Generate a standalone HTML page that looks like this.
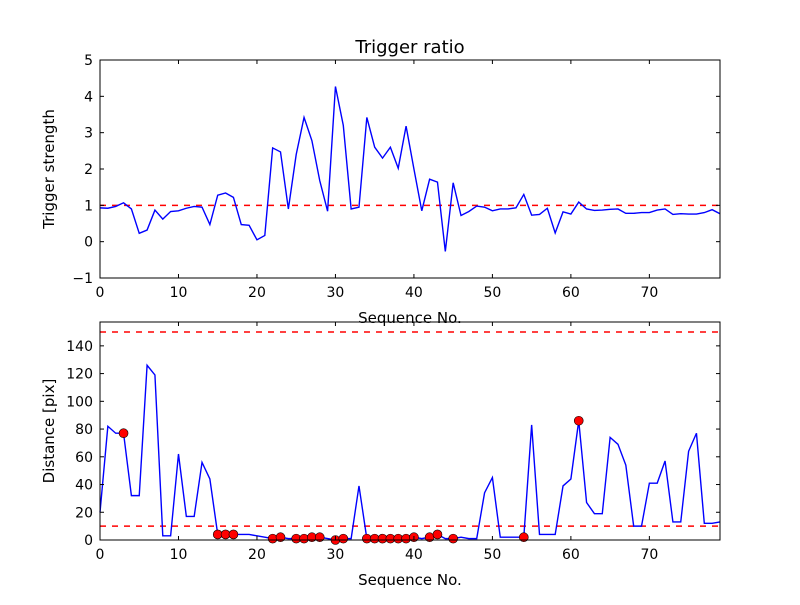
<!DOCTYPE html>
<html><head><meta charset="utf-8"><style>
body{margin:0;background:#fff}
svg text{font-family:"DejaVu Sans","Liberation Sans",sans-serif;fill:#000}
</style></head><body>
<svg id="c" width="800" height="600" xmlns="http://www.w3.org/2000/svg">
<rect width="800" height="600" fill="#fff"/>
</svg>
<script>
const seq = Array.from({length:80},(_,i)=>i);
const ratioValues = [0.93,0.92,0.97,1.07,0.9,0.23,0.32,0.87,0.62,0.83,0.85,0.92,0.97,0.95,0.47,1.28,1.34,1.22,0.47,0.45,0.05,0.17,2.58,2.47,0.9,2.4,3.42,2.78,1.68,0.84,4.27,3.2,0.9,0.95,3.42,2.6,2.3,2.6,2.02,3.18,2.0,0.85,1.72,1.64,-0.27,1.62,0.72,0.83,0.98,0.95,0.85,0.9,0.9,0.93,1.3,0.73,0.75,0.92,0.24,0.82,0.76,1.09,0.9,0.86,0.87,0.89,0.9,0.78,0.78,0.8,0.8,0.87,0.9,0.75,0.77,0.76,0.76,0.8,0.88,0.77];
const distValues = [20,82,77,77,32,32,126,119,3,3,62,17,17,56,44,4,4,4,4,4,3,2,1,2,1,1,1,2,2,1,0,1,1,39,1,1,1,1,1,1,2,1,2,4,1,1,2,1,1,34,45,2,2,2,2,83,4,4,4,39,44,86,27,19,19,74,69,54,10,10,41,41,57,13,13,64,77,12,12,13];
const markerIdx = [3,15,16,17,22,23,25,26,27,28,30,31,34,35,36,37,38,39,40,42,43,45,54,61];
const topTicks = [-1,0,1,2,3,4,5];
const botTicks = [0,20,40,60,80,100,120,140];
const xTicks = [0,10,20,30,40,50,60,70];
const ratioThreshold = [1];
const distThresholds = [10,150];

const svg=document.getElementById('c');
const NS='http://www.w3.org/2000/svg';
function mk(tag,attrs,parent){const e=document.createElementNS(NS,tag);for(const k in attrs)e.setAttribute(k,attrs[k]);(parent||svg).appendChild(e);return e;}
function txt(s,x,y,size,anchor,parent){const t=mk('text',{x:x,y:y,'font-size':size,'text-anchor':anchor||'middle'},parent);t.textContent=s;return t;}

function panel(name,top,bottom,ymin,ymax,yticks,vals,thr,ylabel,title,markers){
  const L=100,R=720;
  const g=mk('g',{});
  
  
  const xs=v=>L+(v-0)/(79-0)*(R-L);
  const ys=v=>bottom-(v-ymin)/(ymax-ymin)*(bottom-top);
  thr.forEach(t=>{const l=mk('line',{x1:L,x2:R,y1:ys(t),y2:ys(t),stroke:'#ff0000','stroke-width':1.5,'stroke-dasharray':'6,6'},g);
    
    });
  const p=mk('polyline',{points:vals.map((v,i)=>xs(seq[i])+','+ys(v)).join(' '),fill:'none',stroke:'#0000ff','stroke-width':1.4},g);
  
  
  if(markers){markers.forEach(i=>{const c=mk('circle',{cx:xs(seq[i]),cy:ys(vals[i]),r:4.5,fill:'#ff0000',stroke:'#000','stroke-width':0.6},g);
    
    });}
  const fr=mk('rect',{x:L,y:top,width:R-L,height:bottom-top,fill:'none',stroke:'#000','stroke-width':1},g);
  
  
  xTicks.forEach(t=>{const x=xs(t);
    mk('line',{x1:x,x2:x,y1:bottom,y2:bottom-4,stroke:'#000'},g);mk('line',{x1:x,x2:x,y1:top,y2:top+4,stroke:'#000'},g);
    const tl=txt(String(t),x,bottom+19,14,'middle',g);
    
    });
  yticks.forEach(t=>{const y=ys(t);
    mk('line',{x1:L,x2:L+4,y1:y,y2:y,stroke:'#000'},g);mk('line',{x1:R,x2:R-4,y1:y,y2:y,stroke:'#000'},g);
    const tl=txt(t<0?'\u2212'+(-t):String(t),L-7,y+5,14,'end',g);
    
    });
  const xl=txt('Sequence No.',410,bottom+45,15,'middle',g);
  
  
  const cy=(top+bottom)/2;
  const yl=txt(ylabel,0,0,15,'middle',g);
  yl.setAttribute('transform','translate('+(L-46)+','+cy+') rotate(-90)');
  
  
  if(title){const tt=txt(title,410,top-7,18,'middle',g);
    
    }
}
panel('trigger-ratio-panel',60,278,-1,5,topTicks,ratioValues,ratioThreshold,'Trigger strength','Trigger ratio',null);
panel('distance-panel',322,540,0,157.2,botTicks,distValues,distThresholds,'Distance [pix]',null,markerIdx);
</script>
</body></html>
